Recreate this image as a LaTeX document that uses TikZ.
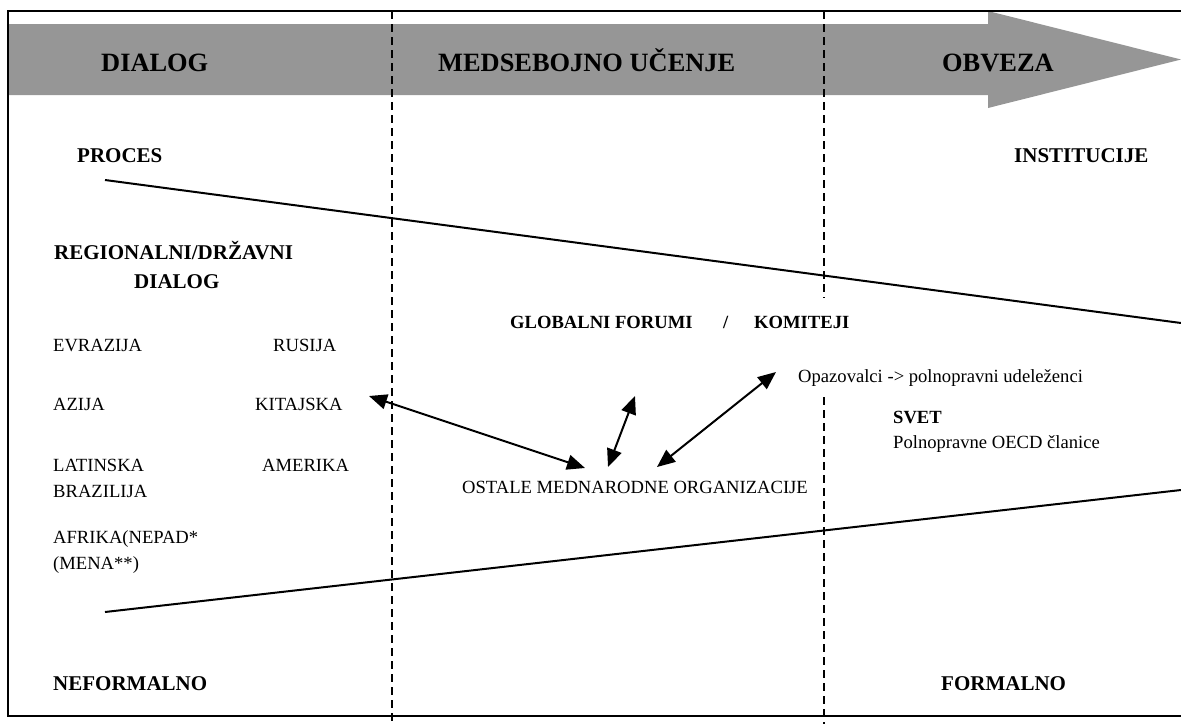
\documentclass[tikz,border=0pt]{standalone}
\usepackage{fontspec}
\setmainfont{Liberation Serif}
\usetikzlibrary{arrows.meta}
\definecolor{bandgray}{RGB}{150,150,150}
\tikzset{
  lbl/.style={inner sep=0pt, anchor=base west},
  big/.style={lbl, font=\fontsize{26.4}{30}\selectfont\bfseries},
  head/.style={lbl, font=\fontsize{21}{25}\selectfont\bfseries},
  txt/.style={lbl, font=\fontsize{18.6}{22}\selectfont},
  txtb/.style={lbl, font=\fontsize{18.6}{22}\selectfont\bfseries},
  frameline/.style={line width=2pt},
  divider/.style={line width=1.5pt, dash pattern=on 8pt off 5pt},
  slant/.style={line width=2pt},
  dbl/.style={line width=2pt, {Triangle[length=18pt,width=15pt]}-{Triangle[length=18pt,width=15pt]}}
}
\begin{document}
\begin{tikzpicture}[x=1pt,y=-1pt]
\useasboundingbox (0,0) rectangle (1181,724);
% grey arrow band
\fill[bandgray] (8,24) -- (988,24) -- (988,11) -- (1181,59.5) -- (988,108) -- (988,95) -- (8,95) -- cycle;
% frame
\draw[frameline] (1181,11) -- (8,11) -- (8,716);
\draw[line width=2.8pt] (7,716) -- (1181,716);
% dividers
\coordinate (d1t) at (392,11); \coordinate (d1b) at (392,724);
\coordinate (d2t) at (824,11); \coordinate (d2m) at (824,298);
\coordinate (d2n) at (824,397); \coordinate (d2b) at (824,724);
\draw[divider] (d1t) -- (d1b);
\draw[divider] (d2t) -- (d2m);
\draw[divider] (d2n) -- (d2b);
% slanted lines
\coordinate (u1) at (105,180); \coordinate (u2) at (1181,323);
\coordinate (l1) at (105,612); \coordinate (l2) at (1181,490);
\draw[slant] (u1) -- (u2);
\draw[slant] (l1) -- (l2);
% band labels
\node[big] (tdialog) at (101,71) {DIALOG};
\node[big] (tmed) at (438,71) {MEDSEBOJNO UČENJE};
\node[big] (tobv) at (942,71) {OBVEZA};
% headings
\node[head] (tproc) at (77,162) {PROCES};
\node[head] (tinst) at (1014,162) {INSTITUCIJE};
\node[head] (treg) at (54,259) {REGIONALNI/DRŽAVNI};
\node[head] (treg2) at (134,288) {DIALOG};
\node[head] (tnef) at (53,690) {NEFORMALNO};
\node[head] (tfor) at (941,690) {FORMALNO};
% regions
\node[txt] (evr) at (53,351) {EVRAZIJA};
\node[txt] (rus) at (273,351) {RUSIJA};
\node[txt] (azi) at (53,410) {AZIJA};
\node[txt] (kit) at (255,410) {KITAJSKA};
\node[txt] (lat) at (53,471) {LATINSKA};
\node[txt] (ame) at (262,471) {AMERIKA};
\node[txt] (bra) at (53,497) {BRAZILIJA};
\node[txt] (afr) at (53,543) {AFRIKA(NEPAD*};
\node[txt] (men) at (53,569) {(MENA**)};
% middle
\node[txtb] (glob) at (510,328) {GLOBALNI FORUMI};
\node[txtb] (slash) at (723,328) {/};
\node[txtb] (kom) at (754,328) {KOMITEJI};
\node[txt] (opaz) at (798,382) {Opazovalci -> polnopravni udeleženci};
\node[txtb] (svet) at (893,423) {SVET};
\node[txt] (poln) at (893,448) {Polnopravne OECD članice};
\node[txt] (ostale) at (462,493) {OSTALE MEDNARODNE ORGANIZACIJE};
% arrows
\coordinate (a1s) at (369,396); \coordinate (a1e) at (585,468);
\coordinate (a2s) at (608,467); \coordinate (a2e) at (635,396);
\coordinate (a3s) at (657,467); \coordinate (a3e) at (776,372);
\draw[dbl] (a1s) -- (a1e);
\draw[dbl] (a2s) -- (a2e);
\draw[dbl] (a3s) -- (a3e);
\end{tikzpicture}
\end{document}
